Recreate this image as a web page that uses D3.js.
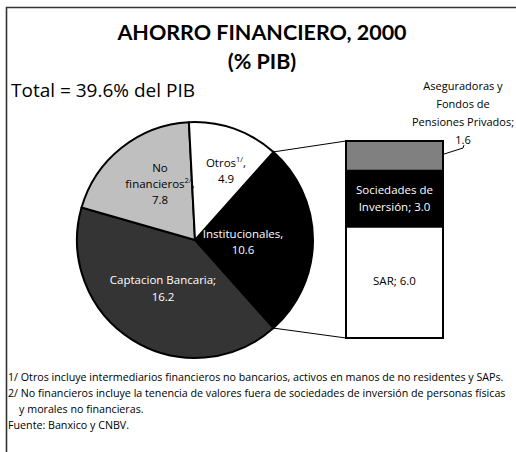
<!DOCTYPE html>
<html>
<head>
<meta charset="utf-8">
<script src="https://cdn.jsdelivr.net/npm/d3@7"></script>
<style>
  html, body { margin: 0; padding: 0; background: #fff; }
  svg { display: block; font-family: "Open Sans", Lato, sans-serif; }
</style>
</head>
<body>
<svg id="chart" width="516" height="452"></svg>
<script>
// Ahorro financiero 2000, % del PIB
const categories = ["Institucionales", "Captacion Bancaria", "No financieros", "Otros"];
const values = [10.6, 16.2, 7.8, 4.9];
const sliceColors = ["#000000", "#343434", "#bfbfbf", "#ffffff"];

// Desglose de institucionales (de abajo hacia arriba)
const subCategories = ["SAR", "Sociedades de Inversión", "Aseguradoras y Fondos de Pensiones Privados"];
const subValues = [6.0, 3.0, 1.6];
const subColors = ["#ffffff", "#000000", "#808080"];

const totalLabel = "Total = 39.6% del PIB";
const notes = [
  "1/ Otros incluye intermediarios financieros no bancarios, activos en manos de no residentes y SAPs.",
  "2/ No financieros incluye la tenencia de valores fuera de sociedades de inversión de personas físicas",
  "    y morales no financieras.",
  "Fuente: Banxico y CNBV."
];

const svg = d3.select("#chart");

// marco
svg.append("path")
  .attr("d", "M6.5,452 V7.5 H516")
  .attr("fill", "none").attr("stroke", "#333").attr("stroke-width", 1.6);

// títulos
svg.append("text").attr("x", 262).attr("y", 40).attr("text-anchor", "middle")
  .style("font-family", "Lato, sans-serif")
  .attr("font-size", 21.5).attr("font-weight", 700).text("AHORRO FINANCIERO, 2000");
svg.append("text").attr("x", 262).attr("y", 69).attr("text-anchor", "middle")
  .style("font-family", "Lato, sans-serif")
  .attr("font-size", 21.5).attr("font-weight", 700).text("(% PIB)");
svg.append("text").attr("x", 11).attr("y", 97)
  .attr("font-size", 19).text(totalLabel);

// pastel
const cx = 195, cy = 240, r = 118;
const instFrac = values[0] / d3.sum(values);
const start = Math.PI / 2 - instFrac * Math.PI;
const pie = d3.pie().sort(null).value(d => d)
  .startAngle(start).endAngle(start + 2 * Math.PI);
const arcs = pie(values);
const arc = d3.arc().innerRadius(0).outerRadius(r);

const g = svg.append("g").attr("transform", `translate(${cx},${cy})`);
g.selectAll("path").data(arcs).join("path")
  .attr("d", arc)
  .attr("fill", (d, i) => sliceColors[i])
  .attr("stroke", "#000").attr("stroke-width", 2).attr("stroke-linejoin", "round");

// barra de desglose
const barX = 346, barW = 97;
const y = d3.scaleLinear().domain([0, d3.sum(subValues)]).range([338, 141]);
const stacked = d3.cumsum(subValues);
const bar = svg.append("g");
bar.selectAll("rect").data(subValues).join("rect")
  .attr("x", barX)
  .attr("y", (d, i) => y(stacked[i]))
  .attr("width", barW)
  .attr("height", (d, i) => y(stacked[i] - d) - y(stacked[i]))
  .attr("fill", (d, i) => subColors[i])
  .attr("stroke", "#000").attr("stroke-width", 2);

// líneas de conexión
const pt = a => [cx + r * Math.sin(a), cy - r * Math.cos(a)];
const inst = arcs[0];
const pTop = pt(inst.startAngle), pBot = pt(inst.endAngle);
svg.append("line").attr("x1", pTop[0]).attr("y1", pTop[1])
  .attr("x2", barX).attr("y2", y(d3.sum(subValues)))
  .attr("stroke", "#000").attr("stroke-width", 1);
svg.append("line").attr("x1", pBot[0]).attr("y1", pBot[1])
  .attr("x2", barX).attr("y2", y(0))
  .attr("stroke", "#000").attr("stroke-width", 1);

// etiquetas (partes de texto y superíndices)
const fmt = d3.format(".1f");
function label(lines, x, y0, color, lh = 16, fs = 11.5) {
  const t = svg.append("text").attr("text-anchor", "middle")
    .attr("font-size", fs).attr("fill", color);
  lines.forEach((ln, k) => {
    const tl = t.append("tspan").attr("x", x).attr("y", y0 + k * lh);
    let shift = 0;
    ln.forEach(part => {
      if (typeof part === "object") {
        tl.append("tspan").attr("font-size", 7.5).attr("dy", -5).text(part.sup);
        shift = 5;
      } else {
        const s = tl.append("tspan").text(part);
        if (shift) { s.attr("dy", shift); shift = 0; }
      }
    });
  });
}
label([["Otros", {sup: "1/"}, ","], [fmt(values[3])]], 226, 167, "#000");
label([["No"], ["financieros", {sup: "2/"}, ","], [fmt(values[2])]], 160, 172, "#000");
label([["Institucionales,"], [fmt(values[0])]], 243, 238, "#fff");
label([["Captacion Bancaria;"], [fmt(values[1])]], 163, 284, "#fff", 17);

// etiquetas de la barra
label([["Sociedades de"], ["Inversión; " + fmt(subValues[1])]], barX + barW / 2, 194, "#fff", 17);
label([["SAR; " + fmt(subValues[0])]], barX + barW / 2, 285, "#000");
label([["Aseguradoras y"], ["Fondos de"], ["Pensiones Privados;"], [fmt(subValues[2])]], 463, 90, "#000", 18, 11);

// guía de la etiqueta superior
const segMid = y(stacked[1] + subValues[2] * 0.55);
svg.append("polyline")
  .attr("points", `${barX + barW},${segMid} 463,148 464,145`)
  .attr("fill", "none").attr("stroke", "#000").attr("stroke-width", 1);

// notas
svg.append("g").selectAll("text").data(notes).join("text")
  .attr("x", 8).attr("y", (d, i) => 381 + i * 16)
  .attr("font-size", 10.7)
  .attr("xml:space", "preserve")
  .style("white-space", "pre")
  .text(d => d);
</script>
</body>
</html>
